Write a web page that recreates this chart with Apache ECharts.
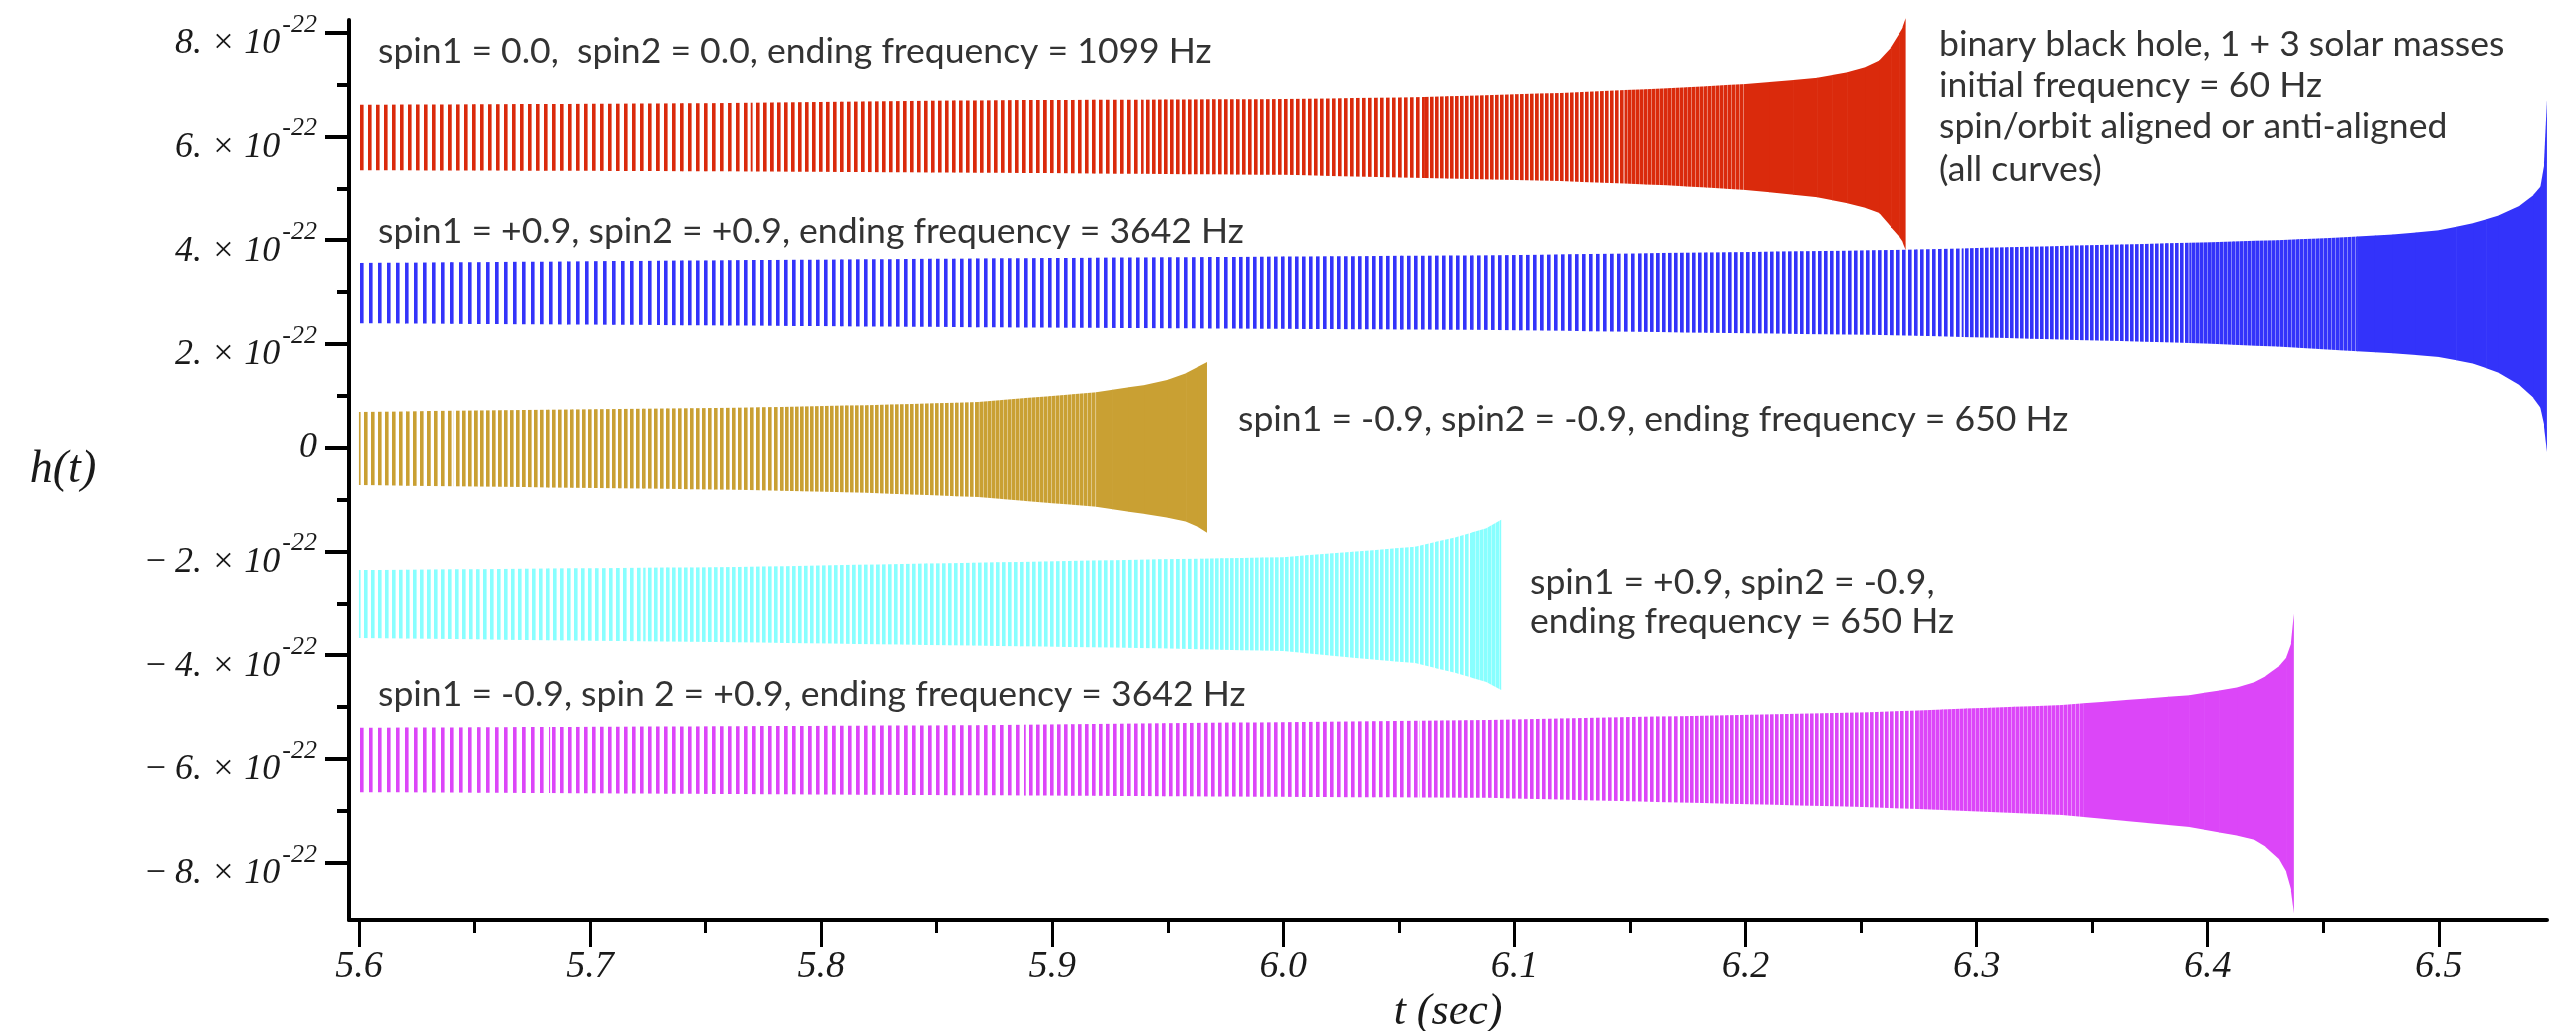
<!DOCTYPE html>
<html>
<head>
<meta charset="utf-8">
<script src="https://cdn.jsdelivr.net/npm/echarts@6/dist/echarts.min.js"></script>
<style>
html,body{margin:0;padding:0;background:#fff;}
#chart{width:2556px;height:1031px;}
</style>
</head>
<body>
<div id="chart"></div>
<script>
// ---------- axis ranges & ticks ----------
const X_MIN = 5.5957, X_MAX = 6.5468;
const Y_MIN = -9.105, Y_MAX = 8.245;          // units of 1e-22
const xMajorTicks = [5.6, 5.7, 5.8, 5.9, 6.0, 6.1, 6.2, 6.3, 6.4, 6.5];
const xMinorTicks = [5.65, 5.75, 5.85, 5.95, 6.05, 6.15, 6.25, 6.35, 6.45];
const yMajorTicks = [-8, -6, -4, -2, 0, 2, 4, 6, 8];
const yMinorTicks = [-7, -5, -3, -1, 1, 3, 5, 7];

// ---------- waveforms: envelope (upper / lower, x1e-22) and oscillation period (ms) ----------
const redT      = [5.600, 5.750, 5.877, 6.000, 6.061, 6.120, 6.166, 6.200, 6.231, 6.244, 6.252, 6.258, 6.263, 6.2665, 6.268, 6.269];
const redUpper  = [6.61, 6.64, 6.70, 6.72, 6.76, 6.84, 6.93, 7.01, 7.13, 7.24, 7.34, 7.47, 7.72, 7.99, 8.12, 8.28];
const redLower  = [5.35, 5.33, 5.30, 5.26, 5.20, 5.14, 5.06, 4.97, 4.83, 4.71, 4.62, 4.52, 4.25, 4.06, 3.95, 3.81];
const redPeriod = [7.2, 6.6, 6.0, 5.3, 4.8, 4.3, 3.7, 3.2, 2.6, 2.3, 2.0, 1.8, 1.5, 1.2, 1.1, 1.0];

const blueT      = [5.600, 5.750, 5.877, 6.092, 6.264, 6.392, 6.430, 6.457, 6.480, 6.500, 6.515, 6.526, 6.535, 6.541, 6.544, 6.5455, 6.5465];
const blueUpper  = [3.56, 3.61, 3.65, 3.71, 3.81, 3.95, 4.00, 4.05, 4.11, 4.19, 4.33, 4.48, 4.67, 4.88, 5.05, 5.50, 6.70];
const blueLower  = [2.40, 2.36, 2.32, 2.27, 2.17, 2.02, 1.95, 1.88, 1.82, 1.75, 1.62, 1.44, 1.20, 0.95, 0.75, 0.40, -0.08];
const bluePeriod = [7.8, 7.3, 6.9, 6.0, 5.0, 3.9, 3.5, 3.2, 2.9, 2.6, 2.3, 2.0, 1.7, 1.4, 1.2, 1.0, 0.9];

const goldT      = [5.600, 5.764, 5.820, 5.868, 5.919, 5.940, 5.950, 5.958, 5.963, 5.9667];
const goldUpper  = [0.69, 0.77, 0.82, 0.88, 1.07, 1.21, 1.31, 1.44, 1.56, 1.65];
const goldLower  = [-0.72, -0.81, -0.87, -0.95, -1.14, -1.28, -1.35, -1.43, -1.53, -1.64];
const goldPeriod = [5.9, 4.9, 4.4, 3.9, 3.1, 2.6, 2.3, 2.0, 1.7, 1.5];

const cyanT      = [5.600, 5.764, 5.937, 6.000, 6.040, 6.057, 6.075, 6.088, 6.094];
const cyanUpper  = [-2.36, -2.30, -2.16, -2.11, -1.97, -1.91, -1.72, -1.55, -1.39];
const cyanLower  = [-3.67, -3.75, -3.86, -3.92, -4.09, -4.15, -4.35, -4.52, -4.67];
const cyanPeriod = [6.0, 5.5, 4.9, 4.6, 4.3, 4.2, 4.0, 3.8, 3.6];

const magT      = [5.600, 5.868, 6.089, 6.254, 6.337, 6.392, 6.405, 6.413, 6.420, 6.425, 6.431, 6.434, 6.436, 6.437];
const magUpper  = [-5.40, -5.35, -5.25, -5.10, -4.96, -4.77, -4.68, -4.62, -4.52, -4.40, -4.20, -4.03, -3.75, -3.20];
const magLower  = [-6.64, -6.70, -6.75, -6.93, -7.08, -7.31, -7.42, -7.48, -7.56, -7.70, -7.95, -8.20, -8.55, -8.97];
const magPeriod = [7.7, 6.6, 5.5, 4.1, 3.2, 2.4, 2.1, 1.9, 1.8, 1.6, 1.3, 1.1, 0.9, 0.8];

// ---------- annotation texts ----------
const annotationTexts = [
  'spin1 = 0.0,  spin2 = 0.0, ending frequency = 1099 Hz',
  'spin1 = +0.9, spin2 = +0.9, ending frequency = 3642 Hz',
  'spin1 = -0.9, spin2 = -0.9, ending frequency = 650 Hz',
  'spin1 = +0.9, spin2 = -0.9,',
  'ending frequency = 650 Hz',
  'spin1 = -0.9, spin 2 = +0.9, ending frequency = 3642 Hz',
  'binary black hole, 1 + 3 solar masses',
  'initial frequency = 60 Hz',
  'spin/orbit aligned or anti-aligned',
  '(all curves)'
];

// ---------- layout / style (not data) ----------
const annotationLayout = [[378,52],[378,232],[1238,420],[1530,583],[1530,622],[378,695],[1939,45],[1939,86],[1939,127],[1939,170]];
const ANN_FONT = 'Lato';
const SERIF = '"Liberation Serif", "DejaVu Serif", serif';
const STROKE_W = 3;
const SLICE_PX = 24;

function fitFontSize(text, family, targetWidth) {
  const ctx = document.createElement('canvas').getContext('2d');
  ctx.font = '100px ' + family;
  return 100 * targetWidth / ctx.measureText(text).width;
}
const annSize = fitFontSize(annotationTexts[0], ANN_FONT, 834);

const patternCache = {};
function stripePattern(color, spacing) {
  const key = color + '|' + spacing;
  if (!patternCache[key]) {
    const c = document.createElement('canvas');
    c.width = spacing; c.height = 8;
    const ctx = c.getContext('2d');
    ctx.fillStyle = color;
    ctx.fillRect(0, 0, STROKE_W, 8);
    ctx.globalAlpha = 0.6;
    ctx.fillRect(STROKE_W, 0, 1, 8);
    patternCache[key] = c;
  }
  return { image: patternCache[key], repeat: 'repeat' };
}

function waveSeries(name, color, T, U, L, P) {
  return {
    type: 'custom',
    name: name,
    coordinateSystem: 'cartesian2d',
    xAxisIndex: 0, yAxisIndex: 0,
    data: T.map((t, i) => [t, U[i], L[i], P[i]]),
    encode: { x: 0, y: [1, 2] },
    clip: false,
    silent: true,
    renderItem: function (params, api) {
      const i = params.dataIndex;
      if (i >= T.length - 1) return null;
      const a = api.coord([T[i], U[i]]);
      const b = api.coord([T[i + 1], U[i + 1]]);
      const c = api.coord([T[i + 1], L[i + 1]]);
      const d = api.coord([T[i], L[i]]);
      const pxPerSec = api.size([1, 0])[0];
      const w = b[0] - a[0];
      const n = Math.max(1, Math.ceil(w / SLICE_PX));
      const children = [];
      for (let k = 0; k < n; k++) {
        const f0 = k / n, f1 = (k + 1) / n, fm = (f0 + f1) / 2;
        const x0 = a[0] + w * f0, x1 = a[0] + w * f1 + 0.6;
        const t0 = a[1] + (b[1] - a[1]) * f0, t1 = a[1] + (b[1] - a[1]) * f1;
        const b0 = d[1] + (c[1] - d[1]) * f0, b1 = d[1] + (c[1] - d[1]) * f1;
        const per = P[i] + (P[i + 1] - P[i]) * fm;
        const spacing = per / 1000 * pxPerSec / 2;     // two strokes per cycle
        const fill = spacing < 3.6 ? color : stripePattern(color, Math.round(spacing));
        children.push({
          type: 'polygon',
          shape: { points: [[x0, t0], [x1, t1], [x1, b1], [x0, b0]] },
          style: { fill: fill, stroke: null }
        });
      }
      return { type: 'group', children: children };
    }
  };
}

function yLabel(v) {
  if (v === 0) return '{z|0}';
  const sign = v < 0 ? '\u2212\u2009' : '';
  return '{m|' + sign + Math.abs(v) + '. \u00d7 10}{s|-22}';
}

const chart = echarts.init(document.getElementById('chart'), null, { renderer: 'canvas' });

const axisLineStyle = { color: '#000', width: 4 };
const labelBase = { fontFamily: SERIF, fontStyle: 'italic', color: '#1a1a1a' };
const option = {
  backgroundColor: '#fff',
  animation: false,
  grid: { left: 349, right: 9, top: 20, bottom: 111, outerBoundsMode: 'none' },
  xAxis: [
    {
      type: 'value', min: X_MIN, max: X_MAX, position: 'bottom',
      axisLine: { show: true, onZero: false, lineStyle: axisLineStyle },
      axisTick: { show: true, customValues: xMajorTicks, length: 27, lineStyle: { color: '#000', width: 3 } },
      axisLabel: Object.assign({
        show: true, customValues: xMajorTicks, formatter: v => v.toFixed(1), margin: 28, fontSize: 38
      }, labelBase),
      splitLine: { show: false },
      name: 't (sec)', nameLocation: 'middle', nameGap: 56,
      nameTextStyle: Object.assign({ fontSize: 44 }, labelBase)
    },
    {
      type: 'value', min: X_MIN, max: X_MAX, position: 'bottom', gridIndex: 0,
      axisLine: { show: false, onZero: false },
      axisTick: { show: true, customValues: xMinorTicks, length: 13, lineStyle: { color: '#000', width: 3 } },
      axisLabel: { show: false },
      splitLine: { show: false }
    }
  ],
  yAxis: [
    {
      type: 'value', min: Y_MIN, max: Y_MAX, position: 'left',
      axisLine: { show: true, onZero: false, lineStyle: axisLineStyle },
      axisTick: { show: true, customValues: yMajorTicks, length: 24, lineStyle: { color: '#000', width: 4 } },
      axisLabel: {
        show: true, customValues: yMajorTicks, formatter: yLabel, margin: 32,
        rich: {
          z: Object.assign({ fontSize: 36 }, labelBase),
          m: Object.assign({ fontSize: 36, padding: [22, 0, 0, 0] }, labelBase),
          s: Object.assign({ fontSize: 26, padding: [0, 0, 16, 2] }, labelBase)
        }
      },
      splitLine: { show: false },
      name: 'h(t)', nameLocation: 'middle', nameRotate: 0, nameGap: 286,
      nameTextStyle: Object.assign({ fontSize: 46, align: 'center', verticalAlign: 'middle' }, labelBase)
    },
    {
      type: 'value', min: Y_MIN, max: Y_MAX, position: 'left', gridIndex: 0,
      axisLine: { show: false, onZero: false },
      axisTick: { show: true, customValues: yMinorTicks, length: 12, lineStyle: { color: '#000', width: 4 } },
      axisLabel: { show: false },
      splitLine: { show: false }
    }
  ],
  series: [
    waveSeries('spin 0.0 / 0.0', '#DA2A0C', redT, redUpper, redLower, redPeriod),
    waveSeries('spin +0.9 / +0.9', '#3333FA', blueT, blueUpper, blueLower, bluePeriod),
    waveSeries('spin -0.9 / -0.9', '#C9A033', goldT, goldUpper, goldLower, goldPeriod),
    waveSeries('spin +0.9 / -0.9', '#88FFFF', cyanT, cyanUpper, cyanLower, cyanPeriod),
    waveSeries('spin -0.9 / +0.9', '#DC46F8', magT, magUpper, magLower, magPeriod)
  ],
  graphic: annotationTexts.map((txt, i) => ({
    type: 'text',
    x: annotationLayout[i][0],
    y: annotationLayout[i][1],
    silent: true,
    style: {
      text: txt, fontFamily: ANN_FONT, fontSize: annSize, fill: '#333',
      align: 'left', verticalAlign: 'middle'
    }
  }))
};
chart.setOption(option);
</script>
</body>
</html>
